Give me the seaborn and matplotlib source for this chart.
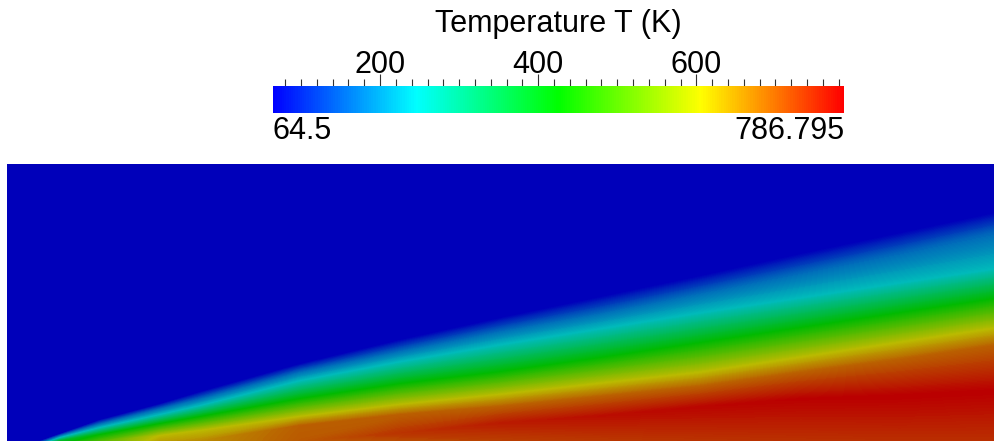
import numpy as np
import matplotlib
matplotlib.use("Agg")
import matplotlib.pyplot as plt
from matplotlib.colors import LinearSegmentedColormap, Normalize
from matplotlib.cm import ScalarMappable
import seaborn as sns

sns.set_style("white")
plt.rcParams['font.family'] = ['Liberation Sans', 'DejaVu Sans']
plt.rcParams['text.color'] = 'black'

# colour range of the temperature bar
t_min = 64.5
t_max = 786.795
bar_ticks = [200, 400, 600]
bar_title = "Temperature T (K)"

# stations along the plate (x, screen pixels)
station_x = [7, 40, 60, 100, 160, 200, 300, 400, 500, 600, 700, 800, 900, 994]

# heights of isotherm rows above the lower edge, one list per row (bottom -> top)
h_bottom = [0, 0, 0, 0, 0, 0, 0, 0, 0, 0, 0, 0, 0, 0]
h_peak = [0, 0, 0, 0, 0, 0, 0, 8, 18, 25, 34, 42, 45, 50]
h_orange = [0, 0, 0, 0, 0, 0, 15, 26, 34, 44, 54, 68, 81, 95]
h_yellow = [0, 0, 0, 0, 5, 10, 24, 36, 46, 57, 68, 83, 98, 112]
h_green = [0, 0, 0, 6, 17, 24, 42, 57, 69, 83, 98, 113, 128, 142]
h_cyan = [0, 0, 3, 13, 26, 35, 60, 79, 96, 112, 128, 143, 158, 172]
h_steel = [0, 0, 5, 17, 32, 42, 69, 90, 110, 128, 148, 168, 188, 208]
h_edge = [0, 0, 7, 21, 37, 49, 77, 101, 123, 144, 165, 187, 208, 228]
h_top = [300] * 14

# temperatures on those rows
t_bottom = [64.5, 64.5, 380, 500, 630, 650, 700, 712, 722, 730, 735, 738, 740, 740]
t_peak = [64.5, 64.5, 380, 500, 630, 650, 700, 735, 760, 772, 780, 785, 787, 787]
t_orange = [64.5, 64.5, 380, 500, 630, 650, 693, 693, 693, 693, 693, 693, 693, 693]
t_yellow = [64.5, 64.5, 380, 500, 606, 606, 606, 606, 606, 606, 606, 606, 606, 606]
t_green = [64.5, 64.5, 380, 425, 425, 425, 425, 425, 425, 425, 425, 425, 425, 425]
t_cyan = [64.5, 64.5, 245, 245, 245, 245, 245, 245, 245, 245, 245, 245, 245, 245]
t_steel = [64.5, 64.5, 165, 165, 165, 165, 165, 165, 165, 165, 165, 165, 165, 165]
t_edge = [64.5] * 14
t_top = [64.5] * 14

rainbow = ["#0000ff", "#00ffff", "#00ff00", "#ffff00", "#ff0000"]
shade = 0.73

bar_cmap = LinearSegmentedColormap.from_list("bluered", rainbow)
field_cols = [tuple(c * shade for c in matplotlib.colors.to_rgb(h)) for h in rainbow]
field_cmap = LinearSegmentedColormap.from_list("bluered_shaded", field_cols)
norm = Normalize(t_min, t_max)

H = np.array([h_bottom, h_peak, h_orange, h_yellow, h_green, h_cyan, h_steel, h_edge, h_top], float)
T = np.array([t_bottom, t_peak, t_orange, t_yellow, t_green, t_cyan, t_steel, t_edge, t_top], float)
X = np.tile(np.array(station_x, float), (H.shape[0], 1))

fig = plt.figure(figsize=(9.94, 4.41), dpi=100)

# field
ax = fig.add_axes([7 / 994, 0, 987 / 994, 277 / 441])
ax.set_facecolor(field_cmap(0.0))
ax.contourf(X, H, T, levels=np.linspace(t_min, t_max, 240), cmap=field_cmap,
            norm=norm, extend="both", antialiased=False)
ax.set_xlim(7, 994)
ax.set_ylim(0, 277)
ax.set_xticks([])
ax.set_yticks([])
for s in ax.spines.values():
    s.set_visible(False)

# colour bar
cax = fig.add_axes([273 / 994, 1 - 113 / 441, 571 / 994, 27 / 441])
cb = fig.colorbar(ScalarMappable(norm=norm, cmap=bar_cmap), cax=cax, orientation="horizontal")
cb.outline.set_visible(False)
cax.xaxis.set_ticks_position("top")
cax.xaxis.set_label_position("top")
cb.set_ticks(bar_ticks)
cax.set_xticks(np.arange(80, 781, 20), minor=True)
cax.tick_params(axis="x", which="major", direction="inout", length=17, width=0.8,
                color="#333333", labelsize=22, pad=-4, labelcolor="black")
cax.tick_params(axis="x", which="minor", direction="out", length=5, width=0.8, color="#333333")
cax.tick_params(axis="x", which="both", bottom=False, top=True)

fig.text(558 / 994, 1 - 24 / 441, bar_title, ha="center", va="center", fontsize=22, color="black")
fig.text(273 / 994, 1 - 131 / 441, f"{t_min:g}", ha="left", va="center", fontsize=22, color="black")
fig.text(844 / 994, 1 - 131 / 441, f"{t_max:g}", ha="right", va="center", fontsize=22, color="black")

fig.savefig("out.png", dpi=100)
